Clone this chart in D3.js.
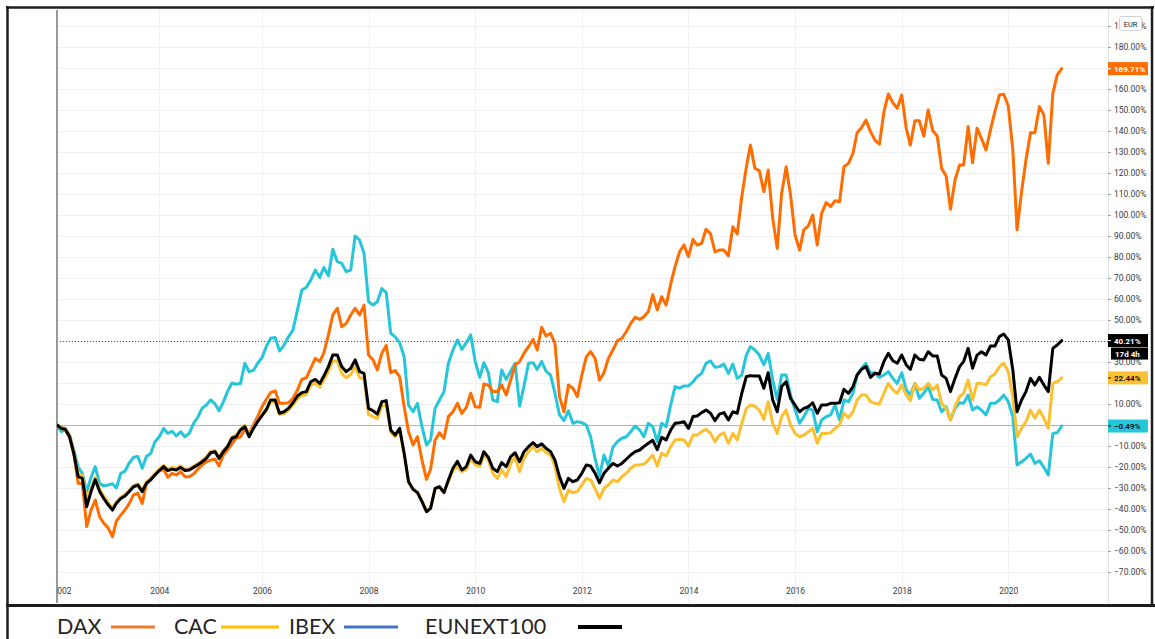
<!DOCTYPE html>
<html><head><meta charset="utf-8">
<script src="https://cdn.jsdelivr.net/npm/d3@7"></script>
<style>
body{margin:0;background:#fff;}
svg{display:block;}
</style></head>
<body>
<svg id="c" width="1155" height="639"></svg>
<script>
// ---------------- DATA ----------------
const seriesNames = ["DAX", "CAC", "IBEX", "EUNEXT100"];
const startMonth = "2002-01";
const endMonth = "2021-01";
const xTickYears = [2002, 2004, 2006, 2008, 2010, 2012, 2014, 2016, 2018, 2020];
const yTicks = [-70, -60, -50, -40, -30, -20, -10, 0, 10, 20, 30, 40, 50, 60, 70, 80, 90, 100, 110, 120, 130, 140, 150, 160, 170, 180, 190];
const currencyLabel = "EUR";
const timerLabel = "17d 4h";

const dax = [
0, -1.6, -2.4, -6, -14, -27.8, -27.8, -48.4, -40.5, -35.7, -43.7, -46.8,
-49, -53.2, -45.7, -42.9, -40.5, -37.3, -33.3, -32.5, -37.3, -27.8, -26.2, -23.8,
-21.7, -21.1, -24.9, -23, -23.8, -22.2, -24.6, -24.6, -23.3, -21.1, -19, -17.5,
-16.7, -16.3, -19.5, -14.3, -11.9, -9, -6.3, -5.6, -2, -4, 0, 4,
8.7, 12.4, 15.4, 16.3, 10.3, 10.3, 10.6, 12.7, 16.7, 21.7, 22.5, 27,
31.7, 30.2, 34.4, 42.9, 52.4, 55.6, 46.8, 48.4, 52.4, 55.6, 52.4, 57.1,
33.3, 31, 26.2, 34.1, 38, 24.9, 25.9, 23, 8.7, -3.2, -9.5, -5.6,
-16.7, -25.9, -21.1, -7.1, -3.7, -6.3, 4, 6.3, 10.3, 5.5, 8.4, 15.1,
8.7, 8.4, 19.5, 19, 15.9, 15.9, 19, 14.3, 21.4, 28.6, 30.2, 34.1,
37.3, 40.8, 35.7, 46.5, 42.4, 43.7, 38.9, 13.5, 6.3, 19, 17.5, 13.5,
23.8, 32.5, 34.9, 31.7, 21.4, 24.9, 31.7, 35.7, 40.2, 41.3, 44.4, 48.4,
51.3, 50.3, 51.5, 54, 62, 54.8, 61.1, 57.1, 67.1, 75.4, 82.5, 85.7,
80.2, 88.4, 85.7, 86.5, 93.2, 91, 82.5, 83.3, 83.3, 80.5, 94.4, 91,
108.7, 122.7, 133.3, 122.2, 121.1, 111.1, 121.4, 98.4, 84.1, 110.3, 123, 109.5,
90.5, 83.3, 92.9, 94.8, 100, 85.7, 100.8, 105.9, 104, 106.8, 106.3, 123,
124.6, 129.4, 139.2, 141.7, 145.2, 139.7, 135.7, 133.8, 149.2, 157.6, 153.5, 150.8,
157.1, 141.3, 133.3, 144.9, 144.9, 137.6, 150, 140.2, 137.6, 122.2, 118.6, 102.7,
116.7, 123.8, 123.8, 142.1, 124.9, 141.3, 136.5, 131, 140.5, 149.2, 157.1, 157.5,
151.9, 131, 92.9, 111.1, 126.2, 139.2, 139.2, 151.6, 147.6, 124.6, 157.9, 166.7, 169.71
];

const cac = [
0, -1.2, -1.5, -5, -12.8, -23.5, -24, -36, -30, -25, -30.5, -34,
-37, -39.5, -36.5, -34.5, -33, -31, -29, -28, -31, -27, -25.5, -23,
-21, -19.2, -21, -20.2, -20.6, -19.5, -21, -20.8, -19.6, -18.5, -17, -15.2,
-12.6, -12.2, -15.2, -12, -9.8, -5.8, -5, -2, -0.2, -5, -1, 2,
4.5, 7, 11, 11, 5, 5.5, 7, 9.5, 12.5, 14, 14.5, 19,
20, 18, 21.5, 25.5, 30.5, 30.5, 24.5, 22.5, 24, 28, 22.5, 22,
5, 4, 3, 9, 9.5, -3.5, -5.5, -2.5, -14, -27, -30.6, -32,
-36, -41, -39.5, -30.5, -29.5, -32, -27, -21.5, -19.8, -22.2, -21.1, -15.9,
-19, -19.8, -14.3, -16.7, -23, -25.4, -21.4, -24.6, -18.3, -15.4, -22.2, -15.9,
-12.7, -10.3, -12.7, -11.1, -13.2, -14.3, -19.8, -30.2, -36.5, -31, -32.2, -31.7,
-28.6, -25.4, -26.2, -30.2, -34.9, -30.2, -28.6, -26.2, -27, -24.6, -23, -20.6,
-19, -19, -18.6, -16.7, -14.3, -19.5, -13.5, -14.8, -10.3, -7.1, -6.8, -7.1,
-10, -4.8, -4.8, -3.2, -2.1, -4, -7.9, -4.8, -3.7, -8.7, -4, -7.1,
0.8, 7.9, 9.5, 9, 7.1, 2.7, 11.1, 0.8, -4, 4, 7.1, 0,
-4, -5.6, -4.8, -3.2, -1.6, -8.7, -4, -4, -3.7, -1.6, 0, 5.6,
3.5, 6.3, 11.9, 14.3, 14.3, 11.1, 10.3, 10, 15.1, 19.8, 16.7, 15.1,
19, 14.3, 11.6, 19.8, 16.7, 17.5, 19.8, 16.7, 19, 10.3, 7.9, 2.4,
8.7, 13.5, 15.1, 21.4, 11.9, 19.8, 19.8, 19, 23, 24.3, 27.8, 29.4,
25.4, 13.5, -5.6, -1.6, 1.6, 7.1, 3.2, 7.1, 3.2, -1.6, 19.8, 20.6, 22.44
];

const ibex = [
0, -3.2, -2, -4.8, -12, -20, -23, -31.7, -25, -19.8, -27.8, -29,
-28.6, -28, -30, -23, -22, -18, -15.4, -15, -20.6, -15, -13.5, -8,
-5.6, -1.6, -4, -3, -5.2, -3.2, -5.6, -4, 0.8, 3.7, 8, 9.5,
12, 10, 6.8, 11, 16, 20, 19.4, 19.8, 29.4, 25.4, 26, 29.4,
32, 37.6, 41.3, 41.7, 35.2, 38, 42, 45.2, 54.8, 64.3, 65.6, 69,
73.8, 70.3, 75, 71, 83.7, 77.8, 77, 73, 73.8, 90, 88, 81.7,
58.7, 57.1, 58.7, 65, 63, 43.7, 42, 39.2, 32.5, 9.5, 6.3, 10.3,
-0.8, -9.5, -7.1, 7.9, 11.9, 15.9, 29.4, 35.7, 40.5, 36, 39.2, 42.9,
30.2, 22.7, 29.7, 24.9, 11.9, 11.1, 26.2, 21.7, 25.7, 29.4, 9, 18.6,
29.4, 29.7, 26.5, 30.2, 25.7, 23.8, 15.1, 4.8, 2.1, 6.8, 0.8, 1.6,
1.1, 0, -5.6, -15.9, -24.6, -14.3, -19.5, -10.6, -7.9, -6.3, -5.6, -3.2,
-0.5, -2.4, -5.6, 0.8, -0.8, -8, 0.8, -0.8, 9.5, 18.3, 17.5, 18.6,
18.6, 20.6, 23, 24.6, 29.4, 30.5, 27.5, 27.8, 29, 24.6, 29, 22.2,
23.8, 33.3, 37.3, 35.7, 33.3, 28.6, 34.1, 21.4, 12.2, 23.8, 23.8, 14.3,
7.1, 0.8, 4, 7.9, 7.1, -3.2, 2.4, 4, 4.8, 9.5, 2.4, 11.9,
11.1, 15.1, 23.8, 27, 29.4, 24.6, 24.9, 22.7, 23.8, 25.4, 22.2, 19.8,
24.9, 16.7, 14.3, 19.8, 12.7, 15.1, 18.3, 12.2, 11.9, 6.3, 8.7, 2.4,
7.9, 10.6, 10.3, 14.3, 7.1, 8.7, 7.1, 4.8, 10.3, 10.3, 11.9, 14.3,
11.1, 4, -19, -17.5, -15.9, -13.8, -18.3, -17, -20.2, -23.8, -4, -3.7, -0.49
];

const eunext = [
0, -1.6, -2, -5.6, -13.5, -24.6, -25.4, -38.9, -31.7, -26, -31.7, -35,
-38, -40.5, -37.3, -35, -33.8, -31.7, -29.4, -28.6, -31.7, -27.8, -26, -23.8,
-21.7, -19.8, -21.7, -21, -21.4, -20.2, -21.7, -21.4, -20.2, -19, -17.5, -15.9,
-13.2, -12.7, -15.9, -12.7, -10.3, -6.3, -5.6, -2.4, -0.8, -5.6, -1.6, 1.6,
4.5, 7.5, 11.9, 11.9, 5.6, 6.3, 7.9, 10.6, 13.8, 15.4, 15.9, 20.6,
21.7, 19.8, 23.3, 27.8, 33.3, 33.3, 27.8, 25.4, 27, 31, 25.4, 24.6,
7.9, 6.8, 5.2, 11.1, 11.6, -2.4, -4.8, -1.6, -13.5, -27, -30.6, -32.2,
-36.5, -41.3, -39.7, -30.2, -29.4, -32.2, -26.2, -20.6, -17.3, -21.4, -19.8, -14.3,
-17.5, -18.3, -12.7, -15.4, -20.6, -22.2, -17.9, -19.8, -15.1, -13.2, -17.5, -12.7,
-10.3, -8.4, -10.3, -9, -11.1, -12.7, -16.7, -24.6, -30.2, -25.4, -27, -26.2,
-23, -19, -19.5, -23, -27.5, -23, -20.6, -18.3, -19.5, -18.3, -16.3, -14.3,
-12.7, -11.9, -10.3, -8.7, -7.3, -11.7, -5.9, -7.1, -2.4, 0.8, 1.1, 1.6,
-1.6, 4, 4.3, 5.9, 7.1, 5.6, 2.1, 5.2, 5.9, 2.4, 6.3, 5.6,
15.1, 23, 23.5, 23.3, 23.3, 17.5, 24.9, 11.9, 6.3, 18.3, 20.6, 12.7,
9.5, 6.3, 7.9, 8.7, 10.6, 5.6, 9.5, 9.5, 10.3, 10.3, 10.6, 17,
15.1, 18.3, 23.8, 26.5, 27.8, 22.7, 24.6, 24.3, 30.2, 34.1, 30.6, 29.4,
33.3, 28.6, 26.5, 33.3, 31.3, 31, 34.9, 32.9, 32.9, 23.8, 22.2, 15.9,
22.2, 27.8, 30.2, 36.5, 27, 33.3, 34.9, 33.3, 37.6, 37.6, 42.1, 43.3,
40.5, 26.2, 6.3, 11.9, 15.9, 22.2, 19, 22.7, 19, 15.9, 36.5, 38.1, 40.21
];

// ---------------- STYLE / LAYOUT ----------------
const lineColors = {DAX: "#ff6d00", CAC: "#fbbf2f", IBEX: "#26c6da", EUNEXT100: "#000000"};
const legendColors = {DAX: "#ed7d31", CAC: "#ffc000", IBEX: "#4472c4", EUNEXT100: "#000000"};
const seriesData = {DAX: dax, CAC: cac, IBEX: ibex, EUNEXT100: eunext};
const drawOrder = ["IBEX", "DAX", "CAC", "EUNEXT100"];

const pane = {left: 57, right: 1108, top: 9, bottom: 604};

const svg = d3.select("#c");
svg.append("rect").attr("width", 1155).attr("height", 639).attr("fill", "#fff");

const parse = d3.timeParse("%Y-%m");
const months = d3.timeMonth.range(parse(startMonth), d3.timeMonth.offset(parse(endMonth), 1));

const x = d3.scaleTime()
  .domain([new Date(2002, 0, 1), new Date(2004, 0, 1), new Date(2006, 0, 1), new Date(2020, 0, 1)])
  .range([57, 159.3, 262, 1008.3]);
const y = d3.scaleLinear().domain([-70, 190]).range([572, 26]);

// clip
const defs = svg.append("defs");
defs.append("clipPath").attr("id", "paneClip").append("rect")
  .attr("x", pane.left).attr("y", pane.top).attr("width", pane.right - pane.left).attr("height", pane.bottom - pane.top);
defs.append("clipPath").attr("id", "xClip").append("rect")
  .attr("x", 57).attr("y", 570).attr("width", 1051).attr("height", 34);

// grid
const grid = svg.append("g");
grid.selectAll("line.h").data(yTicks).join("line")
  .attr("x1", pane.left).attr("x2", pane.right)
  .attr("y1", d => Math.round(y(d)) + 0.5).attr("y2", d => Math.round(y(d)) + 0.5)
  .attr("stroke", "#eef0f3").attr("stroke-width", 1);
grid.selectAll("line.v").data(xTickYears.slice(1)).join("line")
  .attr("x1", d => Math.round(x(new Date(d, 0, 1))) + 0.5).attr("x2", d => Math.round(x(new Date(d, 0, 1))) + 0.5)
  .attr("y1", pane.top).attr("y2", pane.bottom)
  .attr("stroke", "#eef0f3").attr("stroke-width", 1);

// right axis separator
svg.append("line").attr("x1", pane.right + 0.5).attr("x2", pane.right + 0.5)
  .attr("y1", pane.top).attr("y2", pane.bottom).attr("stroke", "#e3e3e3");

// zero line
svg.append("line").attr("x1", pane.left).attr("x2", pane.right)
  .attr("y1", Math.round(y(0)) + 0.5).attr("y2", Math.round(y(0)) + 0.5)
  .attr("stroke", "#b5b5b5").attr("stroke-width", 1);

// last value dotted line (EUNEXT100)
const lastBlack = eunext[eunext.length - 1];
svg.append("line").attr("x1", pane.left).attr("x2", pane.right)
  .attr("y1", Math.round(y(lastBlack)) + 0.5).attr("y2", Math.round(y(lastBlack)) + 0.5)
  .attr("stroke", "#555").attr("stroke-width", 1).attr("stroke-dasharray", "1,2");

// left pane edge
svg.append("line").attr("x1", 57).attr("x2", 57).attr("y1", 10).attr("y2", 603)
  .attr("stroke", "#9a9a9a").attr("stroke-width", 2);

// series lines
const line = d3.line().x((d, i) => x(months[i])).y(d => y(d));
const linesG = svg.append("g").attr("clip-path", "url(#paneClip)");
drawOrder.forEach(name => {
  linesG.append("path").datum(seriesData[name])
    .attr("d", line).attr("fill", "none")
    .attr("stroke", lineColors[name]).attr("stroke-width", 3)
    .attr("stroke-linejoin", "round").attr("stroke-linecap", "round");
});

// x axis
const xAxis = d3.axisBottom(x)
  .tickValues(xTickYears.map(v => new Date(v, 0, 1)))
  .tickFormat(d3.timeFormat("%Y")).tickSize(0).tickPadding(0);
const xOuter = svg.append("g").attr("clip-path", "url(#xClip)");
const xg = xOuter.append("g").attr("transform", "translate(0,588)").call(xAxis);
xg.select(".domain").remove();
xg.selectAll("text").attr("font-family", "Roboto, sans-serif").attr("font-size", 8.5).attr("fill", "#3a3a3a");
xg.selectAll(".tick").filter((d, i) => i === 0).select("text").attr("dx", 4.5);

// y axis
const boxValues = [dax, eunext, cac, ibex].map(a => a[a.length - 1]);
const yAxis = d3.axisRight(y).tickValues(yTicks).tickSize(3).tickPadding(3)
  .tickFormat(d => (d < 0 ? "\u2212" : "") + Math.abs(d).toFixed(2) + "%");
const yg = svg.append("g").attr("transform", `translate(${pane.right},0)`).call(yAxis);
yg.select(".domain").remove();
yg.selectAll(".tick line").attr("stroke", "#9a9a9a");
yg.selectAll("text").attr("font-family", "Roboto, sans-serif").attr("font-size", 8.5).attr("fill", "#3a3a3a");
// labels hidden behind the last-value boxes
yg.selectAll(".tick").filter(d => boxValues.some(v => Math.abs(y(v) - y(d)) < 6.5)).select("text").remove();

// EUR box
svg.append("rect").attr("x", 1119.5).attr("y", 16.5).attr("width", 22).attr("height", 14).attr("rx", 2)
  .attr("fill", "#fff").attr("stroke", "#cfd2d8");
svg.append("text").attr("x", 1130.5).attr("y", 26.5).attr("text-anchor", "middle")
  .attr("font-family", "Roboto, sans-serif").attr("font-size", 7.5).attr("fill", "#222").text(currencyLabel);

// last-value boxes
const boxes = [
  {name: "DAX", fill: lineColors.DAX, text: "#fff"},
  {name: "EUNEXT100", fill: "#000", text: "#fff"},
  {name: "CAC", fill: lineColors.CAC, text: "#131722"},
  {name: "IBEX", fill: lineColors.IBEX, text: "#131722"}
];
boxes.forEach(b => {
  const arr = seriesData[b.name];
  const v = arr[arr.length - 1];
  const cy = y(v);
  svg.append("rect").attr("x", 1108).attr("y", cy - 6.5).attr("width", 40).attr("height", 13).attr("fill", b.fill);
  svg.append("line").attr("x1", 1108).attr("x2", 1111).attr("y1", cy).attr("y2", cy).attr("stroke", b.text);
  svg.append("text").attr("x", 1114).attr("y", cy + 3)
    .attr("font-family", "Roboto, sans-serif").attr("font-size", 8).attr("font-weight", "bold")
    .attr("fill", b.text).text((v < 0 ? "\u2212" : "") + Math.abs(v).toFixed(2) + "%");
});
// countdown box under the black label
{
  const cy = y(lastBlack);
  svg.append("rect").attr("x", 1111).attr("y", cy + 7).attr("width", 37).attr("height", 12).attr("fill", "#000");
  svg.append("text").attr("x", 1115).attr("y", cy + 16)
    .attr("font-family", "Roboto, sans-serif").attr("font-size", 8).attr("font-weight", "bold")
    .attr("fill", "#fff").text(timerLabel);
}

// frame
const frame = svg.append("g").attr("stroke", "#1e1e1e");
frame.append("line").attr("x1", 6).attr("x2", 1154).attr("y1", 7.5).attr("y2", 7.5).attr("stroke-width", 2.5);
frame.append("line").attr("x1", 7.5).attr("x2", 7.5).attr("y1", 6).attr("y2", 639).attr("stroke-width", 2.5);
frame.append("line").attr("x1", 1152).attr("x2", 1152).attr("y1", 6).attr("y2", 606).attr("stroke-width", 2.5);
frame.append("line").attr("x1", 6).attr("x2", 1155).attr("y1", 605.5).attr("y2", 605.5).attr("stroke-width", 3);

// legend
const legendLayout = [
  {name: "DAX", tx: 57, l1: 111, l2: 155, w: 3},
  {name: "CAC", tx: 174, l1: 221, l2: 279, w: 3},
  {name: "IBEX", tx: 289, l1: 344, l2: 398, w: 3},
  {name: "EUNEXT100", tx: 425, l1: 578, l2: 622, w: 4}
];
const lg = svg.append("g");
legendLayout.forEach(it => {
  lg.append("text").attr("x", it.tx).attr("y", 634)
    .attr("font-family", "Lato, 'Open Sans', sans-serif").attr("font-size", 21.5).attr("fill", "#262626").text(it.name);
  lg.append("line").attr("x1", it.l1).attr("x2", it.l2).attr("y1", 627).attr("y2", 627)
    .attr("stroke", legendColors[it.name]).attr("stroke-width", it.w);
});
</script>
</body></html>
